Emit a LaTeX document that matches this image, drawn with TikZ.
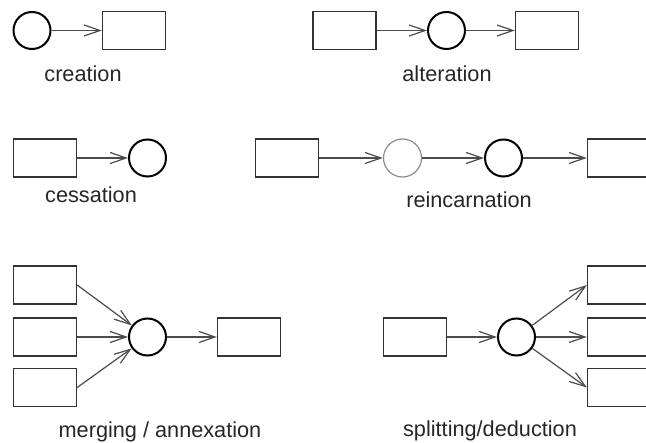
\documentclass[tikz,border=0pt]{standalone}
\usepackage{fontspec}
\setmainfont{Liberation Sans}
\usetikzlibrary{arrows.meta}
\begin{document}
\begin{tikzpicture}[x=1pt,y=-1pt,
  box/.style={draw=black!80, line width=1.3pt, minimum width=63pt, minimum height=38pt, inner sep=0pt},
  ent/.style={draw=black, circle, line width=2pt, minimum size=37pt, inner sep=0pt},
  ghost/.style={draw=black!45, circle, line width=1.2pt, minimum size=38pt, inner sep=0pt},
  flow/.style={draw=black!70, line width=1.2pt, -{Straight Barb[length=16pt,width=11pt,line width=1.2pt]}},
  lbl/.style={anchor=base, font=\fontsize{21.7}{24}\selectfont, text=black!85, inner sep=0pt}]
\useasboundingbox (0,0) rectangle (646,443);
% creation
\node[ent] (cr1) at (32,30.5) {};
\node[box] (cr2) at (134,30.5) {};
\draw[flow] (cr1) -- (cr2);
\node[lbl] (crl) at (83,82) {creation};
% alteration
\node[box] (al1) at (344.5,30.5) {};
\node[ent] (al2) at (446.5,30.5) {};
\node[box] (al3) at (547,30.5) {};
\draw[flow] (al1) -- (al2);
\draw[flow] (al2) -- (al3);
\node[lbl] (all) at (447,82) {alteration};
% cessation
\node[box] (ce1) at (45,158) {};
\node[ent] (ce2) at (147.5,158) {};
\draw[flow] (ce1) -- (ce2);
\node[lbl] (cel) at (91,203) {cessation};
% reincarnation
\node[box] (re1) at (287,158) {};
\node[ghost] (re2) at (402.5,158) {};
\node[ent] (re3) at (503.5,158) {};
\node[box] (re4) at (619,158) {};
\draw[flow] (re1) -- (re2);
\draw[flow] (re2) -- (re3);
\draw[flow] (re3) -- (re4);
\node[lbl] (rel) at (469,208) {reincarnation};
% merging / annexation
\node[box] (me1) at (45,285) {};
\node[box] (me2) at (45,337) {};
\node[box] (me3) at (45,387.5) {};
\node[ent] (me4) at (147.5,337) {};
\node[box] (me5) at (249,337) {};
\draw[flow] (me1.east) -- (me4);
\draw[flow] (me2) -- (me4);
\draw[flow] (me3.east) -- (me4);
\draw[flow] (me4) -- (me5);
\node[lbl] (mel) at (160,438) {merging / annexation};
% splitting / deduction
\node[box] (sp1) at (415,337) {};
\node[ent] (sp2) at (516.5,337) {};
\node[box] (sp3) at (619,285) {};
\node[box] (sp4) at (619,337) {};
\node[box] (sp5) at (619,387.5) {};
\draw[flow] (sp1) -- (sp2);
\draw[flow] (sp2) -- (sp3.west);
\draw[flow] (sp2) -- (sp4);
\draw[flow] (sp2) -- (sp5.west);
\node[lbl] (spl) at (490,437) {splitting/deduction};
\end{tikzpicture}
\end{document}
